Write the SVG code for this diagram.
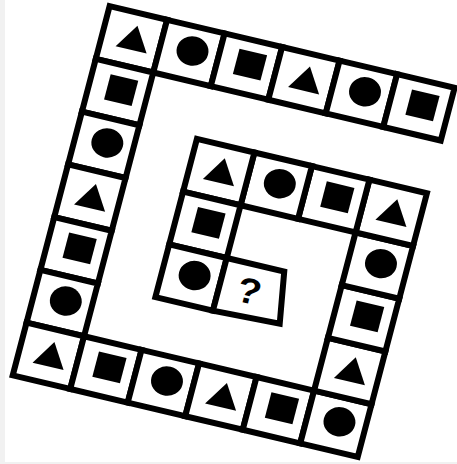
<svg xmlns="http://www.w3.org/2000/svg" xmlns:xlink="http://www.w3.org/1999/xlink" width="457" height="464" viewBox="0 0 457 464">
  <style>
    .cell { fill: #ffffff; stroke: #000000; stroke-width: 6; vector-effect: non-scaling-stroke; stroke-linejoin: miter; }
    .shape { fill: #000000; }
    .q { font-family: "Liberation Sans", Arial, sans-serif; font-weight: bold; font-size: 0.66px; fill: #000000; text-anchor: middle; }
  </style>
  <defs>
    <polygon id="tri" class="shape" points="0.54,0.23 0.81,0.69 0.27,0.69"/>
    <rect id="sq" class="shape" x="0.31" y="0.21" width="0.48" height="0.48"/>
    <circle id="cir" class="shape" cx="0.55" cy="0.45" r="0.27"/>
  </defs>
  <rect x="0" y="0" width="457" height="464" fill="#f1f1f1"/>
  <rect x="5" y="0" width="452" height="462" fill="#ffffff"/>
  <g id="spiral" transform="matrix(57.5 13.6 -13.84 52.74 109.6 6.2)">
    <!-- top row -->
    <g id="cell-r0c0"><rect class="cell" x="0" y="0" width="1" height="1"/><use href="#tri" x="0" y="0"/></g>
    <g id="cell-r0c1"><rect class="cell" x="1" y="0" width="1" height="1"/><use href="#cir" x="1" y="0"/></g>
    <g id="cell-r0c2"><rect class="cell" x="2" y="0" width="1" height="1"/><use href="#sq" x="2" y="0"/></g>
    <g id="cell-r0c3"><rect class="cell" x="3" y="0" width="1" height="1"/><use href="#tri" x="3" y="0"/></g>
    <g id="cell-r0c4"><rect class="cell" x="4" y="0" width="1" height="1"/><use href="#cir" x="4" y="0"/></g>
    <g id="cell-r0c5"><rect class="cell" x="5" y="0" width="1" height="1"/><use href="#sq" x="5" y="0"/></g>
    <!-- left column -->
    <g id="cell-r1c0"><rect class="cell" x="0" y="1" width="1" height="1"/><use href="#sq" x="0" y="1"/></g>
    <g id="cell-r2c0"><rect class="cell" x="0" y="2" width="1" height="1"/><use href="#cir" x="0" y="2"/></g>
    <g id="cell-r3c0"><rect class="cell" x="0" y="3" width="1" height="1"/><use href="#tri" x="0" y="3"/></g>
    <g id="cell-r4c0"><rect class="cell" x="0" y="4" width="1" height="1"/><use href="#sq" x="0" y="4"/></g>
    <g id="cell-r5c0"><rect class="cell" x="0" y="5" width="1" height="1"/><use href="#cir" x="0" y="5"/></g>
    <g id="cell-r6c0"><rect class="cell" x="0" y="6" width="1" height="1"/><use href="#tri" x="0" y="6"/></g>
    <!-- bottom row -->
    <g id="cell-r6c1"><rect class="cell" x="1" y="6" width="1" height="1"/><use href="#sq" x="1" y="6"/></g>
    <g id="cell-r6c2"><rect class="cell" x="2" y="6" width="1" height="1"/><use href="#cir" x="2" y="6"/></g>
    <g id="cell-r6c3"><rect class="cell" x="3" y="6" width="1" height="1"/><use href="#tri" x="3" y="6"/></g>
    <g id="cell-r6c4"><rect class="cell" x="4" y="6" width="1" height="1"/><use href="#sq" x="4" y="6"/></g>
    <g id="cell-r6c5"><rect class="cell" x="5" y="6" width="1" height="1"/><use href="#cir" x="5" y="6"/></g>
    <!-- right column -->
    <g id="cell-r5c5"><rect class="cell" x="5" y="5" width="1" height="1"/><use href="#tri" x="5" y="5"/></g>
    <g id="cell-r4c5"><rect class="cell" x="5" y="4" width="1" height="1"/><use href="#sq" x="5" y="4"/></g>
    <g id="cell-r3c5"><rect class="cell" x="5" y="3" width="1" height="1"/><use href="#cir" x="5" y="3"/></g>
    <g id="cell-r2c5"><rect class="cell" x="5" y="2" width="1" height="1"/><use href="#tri" x="5" y="2"/></g>
    <!-- inner row -->
    <g id="cell-r2c4"><rect class="cell" x="4" y="2" width="1" height="1"/><use href="#sq" x="4" y="2"/></g>
    <g id="cell-r2c3"><rect class="cell" x="3" y="2" width="1" height="1"/><use href="#cir" x="3" y="2"/></g>
    <g id="cell-r2c2"><rect class="cell" x="2" y="2" width="1" height="1"/><use href="#tri" x="2" y="2"/></g>
    <!-- inner column -->
    <g id="cell-r3c2"><rect class="cell" x="2" y="3" width="1" height="1"/><use href="#sq" x="2" y="3"/></g>
    <g id="cell-r4c2"><rect class="cell" x="2" y="4" width="1" height="1"/><use href="#cir" x="2" y="4"/></g>
    <!-- question cell -->
    <g id="cell-question"><polygon class="cell" points="3,4 4,4 4.15,4.95 3,5"/><text class="q" x="3.51" y="4.725">?</text></g>
  </g>
</svg>
